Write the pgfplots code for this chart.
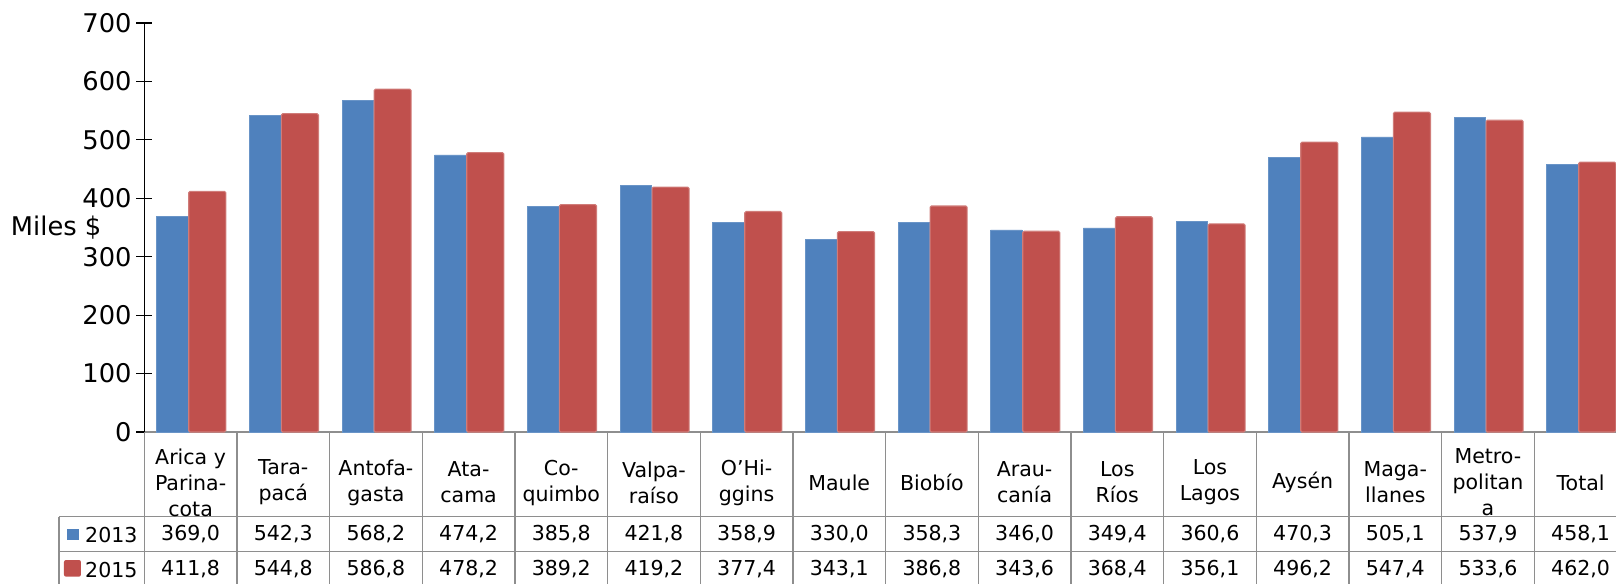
\documentclass[border=0pt]{standalone}
\usepackage{fontspec}
\setmainfont{DejaVu Sans}
\usepackage{pgfplots}
\usepackage{pgfplotstable}
\pgfplotsset{compat=1.18}

\definecolor{c13}{HTML}{4F81BD}
\definecolor{c15}{HTML}{C0504D}
\definecolor{tgrid}{HTML}{8E8E8E}
\newcommand{\tfont}{\fontsize{19.3}{22}\selectfont}

% x: category position, a: 2013, b: 2015 (miles $)
\pgfplotstableread{
x a b
0 369.0 411.8
1 542.3 544.8
2 568.2 586.8
3 474.2 478.2
4 385.8 389.2
5 421.8 419.2
6 358.9 377.4
7 330.0 343.1
8 358.3 386.8
9 346.0 343.6
10 349.4 368.4
11 360.6 356.1
12 470.3 496.2
13 505.1 547.4
14 537.9 533.6
15 458.1 462.0
}\data

\begin{document}
\begin{tikzpicture}
% table grid
\foreach \k in {0,...,16}
  \draw[tgrid, line width=1pt] (\k*69.5pt,0) -- (\k*69.5pt,-130pt);
\draw[tgrid, line width=1pt] (-64pt,-63.5pt) -- (-64pt,-130pt);
\foreach \yy in {63.5,89.8,116}
  \draw[tgrid, line width=1pt] (-64pt,-\yy pt) -- (1112pt,-\yy pt);

\begin{axis}[
    at={(0,0)}, anchor=south west,
    width=1112pt, height=306.75pt, scale only axis,
    xmin=-0.5, xmax=15.5, ymin=0, ymax=700,
    clip=false,
    axis lines*=left,
    axis line style={-},
    x axis line style={draw=tgrid, line width=1pt},
    y axis line style={draw=black, line width=0.8pt},
    ytick={0,100,200,300,400,500,600,700},
    yticklabels={{\tfont 0},{\tfont 100},{\tfont 200},{\tfont 300},{\tfont 400},{\tfont 500},{\tfont 600},{\tfont 700}},
    xtick={0,...,15},
    xticklabels={{Arica y\\Parina-\\cota},{Tara-\\pacá},{Antofa-\\gasta},{Ata-\\cama},
      {Co-\\quimbo},{Valpa-\\raíso},{O’Hi-\\ggins},{Maule},{Biobío},{Arau-\\canía},
      {Los\\Ríos},{Los\\Lagos},{Aysén},{Maga-\\llanes},{Metro-\\politan\\a},{Total}},
    tick align=center,
    major tick length=12pt,
    xtick style={draw=none},
    ytick style={black, line width=0.8pt},
    /pgf/number format/assume math mode=true,
    yticklabel style={font=\tfont},
    xticklabel style={font=\fontsize{15.4}{19.5}\selectfont, align=center, anchor=center, yshift=-31.9pt},
    ylabel={Miles \$},
    ylabel style={font=\fontsize{19.3}{22}\selectfont, rotate=-90, at={(axis description cs:0,0.5)}, anchor=east, xshift=-28.7pt},
  ]
  \addplot[ybar, bar width=0.34, bar shift=-0.196, fill=c13, draw=c13!85!white, line width=0.4pt]
    table[x=x, y=a]{\data};
  \addplot[ybar, bar width=0.40, bar shift=0.18, fill=c15, draw=c15!75!white, line width=0.8pt, rounded corners=1pt]
    table[x=x, y=b]{\data};
  % table rows with the values
  \addplot[draw=none, mark=none, point meta=explicit,
    nodes near coords={\pgfmathprintnumber[fixed,fixed zerofill,precision=1,use comma]{\pgfplotspointmeta}},
    every node near coord/.append style={anchor=center, font=\fontsize{15.4}{19.5}\selectfont}]
    table[x=x, y expr=-175.4, meta=a]{\data};
  \addplot[draw=none, mark=none, point meta=explicit,
    nodes near coords={\pgfmathprintnumber[fixed,fixed zerofill,precision=1,use comma]{\pgfplotspointmeta}},
    every node near coord/.append style={anchor=center, font=\fontsize{15.4}{19.5}\selectfont}]
    table[x=x, y expr=-235.4, meta=b]{\data};
\end{axis}

% legend keys of the table
\fill[c13] (-58.2pt,-81pt) rectangle (-49pt,-73pt);
\fill[c15, rounded corners=1.5pt] (-60.2pt,-108.5pt) rectangle (-47.5pt,-96pt);
\node[anchor=west, inner sep=0pt, font=\fontsize{15.4}{19.5}\selectfont] at (-44.5pt,-77pt) {2013};
\node[anchor=west, inner sep=0pt, font=\fontsize{15.4}{19.5}\selectfont] at (-44.5pt,-103.5pt) {2015};

\pgfresetboundingbox
\useasboundingbox (-108.2pt,-113.25pt) rectangle (1103.8pt,324pt);
\end{tikzpicture}
\end{document}
